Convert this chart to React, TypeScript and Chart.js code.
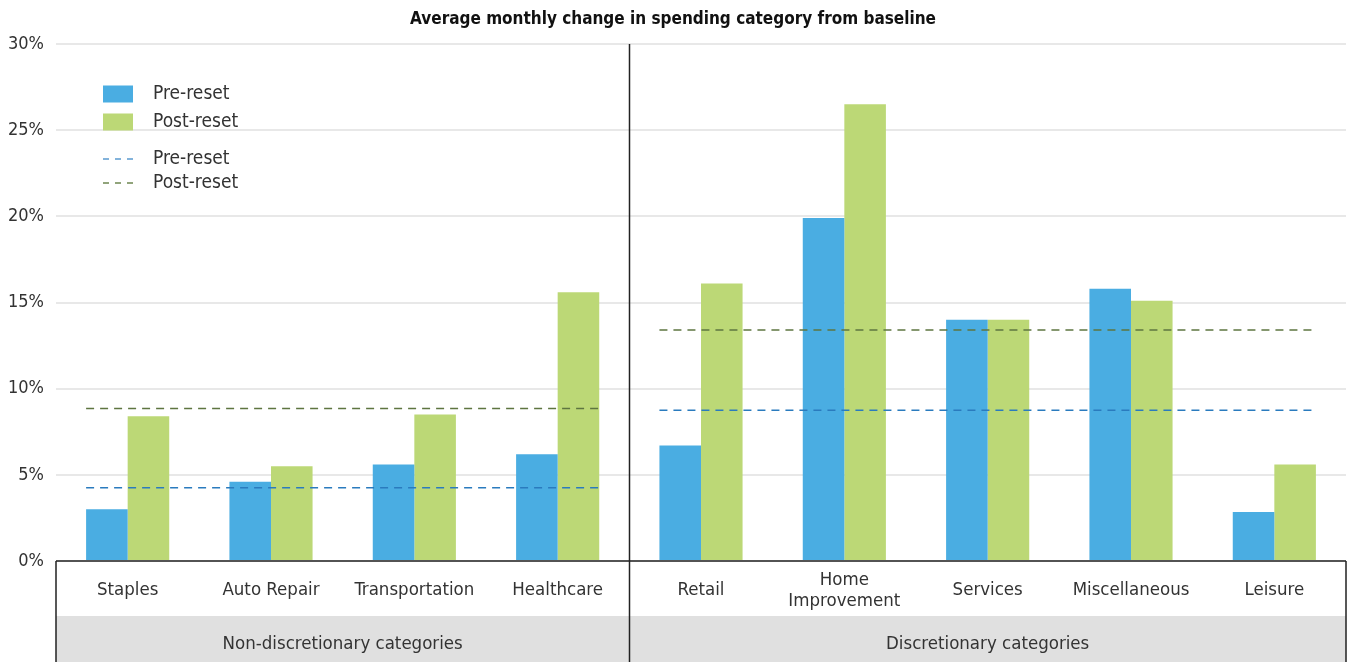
import React, { useEffect, useRef } from 'react';
import { Chart, registerables } from 'chart.js';

Chart.register(...registerables);

const FONT = "'DejaVu Sans Condensed', 'DejaVu Sans', sans-serif";

const titleText = 'Average monthly change in spending category from baseline';
const categories: (string | string[])[] = [
  'Staples', 'Auto Repair', 'Transportation', 'Healthcare',
  'Retail', ['Home', 'Improvement'], 'Services', 'Miscellaneous', 'Leisure',
];
const preReset = [3.0, 4.6, 5.6, 6.2, 6.7, 19.9, 14.0, 15.8, 2.85];
const postReset = [8.4, 5.5, 8.5, 15.6, 16.1, 26.5, 14.0, 15.1, 5.6];

const groupLabels = ['Non-discretionary categories', 'Discretionary categories'];
const groupStart = [0, 4];
const groupEnd = [3, 8];
const preAvg = [4.25, 8.75];
const postAvg = [8.85, 13.4];

const yTicks = [0, 5, 10, 15, 20, 25, 30];
const legendLabels = ['Pre-reset', 'Post-reset', 'Pre-reset', 'Post-reset'];

const BLUE = '#4AADE2';
const GREEN = '#BCD876';
const BLUE_DASH = '#2A7BBE';
const GREEN_DASH = '#5E7540';
const CAT_PCT = 0.58;

const avgPlugin = {
  id: 'groupAverages',
  afterDatasetsDraw(chart: any) {
    const { ctx } = chart;
    const xl = chart.scales.xl;
    const y = chart.scales.y;
    ctx.save();
    ctx.lineWidth = 1.5;
    ctx.setLineDash([8, 6]);
    const draw = (vals: number[], color: string) => {
      ctx.strokeStyle = color;
      vals.forEach((v, i) => {
        const yy = y.getPixelForValue(v);
        ctx.beginPath();
        ctx.moveTo(xl.getPixelForValue(groupStart[i] - CAT_PCT / 2), yy);
        ctx.lineTo(xl.getPixelForValue(groupEnd[i] + CAT_PCT / 2), yy);
        ctx.stroke();
      });
    };
    draw(preAvg, BLUE_DASH);
    draw(postAvg, GREEN_DASH);
    ctx.restore();
  },
};

const framePlugin = {
  id: 'frameAndLegend',
  afterDraw(chart: any) {
    const { ctx, chartArea } = chart;
    const xl = chart.scales.xl;
    const H = chart.height;
    const bandTop = chartArea.bottom + 55;
    ctx.save();
    ctx.fillStyle = '#E0E0E0';
    ctx.fillRect(chartArea.left, bandTop, chartArea.right - chartArea.left, H - bandTop);
    ctx.font = `18.5px ${FONT}`;
    ctx.fillStyle = '#333';
    ctx.textAlign = 'center';
    ctx.textBaseline = 'middle';
    groupLabels.forEach((lab, i) => {
      const a = xl.getPixelForValue(groupStart[i] - 0.5);
      const b = xl.getPixelForValue(groupEnd[i] + 0.5);
      ctx.fillText(lab, (a + b) / 2, H - 18);
    });
    ctx.strokeStyle = '#222';
    ctx.lineWidth = 1.5;
    ctx.beginPath();
    ctx.moveTo(chartArea.left, chartArea.bottom);
    ctx.lineTo(chartArea.right, chartArea.bottom);
    ctx.moveTo(chartArea.left, chartArea.bottom);
    ctx.lineTo(chartArea.left, H);
    ctx.moveTo(chartArea.right, chartArea.bottom);
    ctx.lineTo(chartArea.right, H);
    for (let i = 1; i < groupStart.length; i++) {
      const d = Math.round(xl.getPixelForValue(groupStart[i] - 0.5)) + 0.5;
      ctx.moveTo(d, chartArea.top);
      ctx.lineTo(d, H);
    }
    ctx.stroke();

    const sx = chartArea.left + 47;
    const rows = [50, 78, 115, 139].map((v) => chartArea.top + v);
    const sw = 30;
    ctx.fillStyle = BLUE;
    ctx.fillRect(sx, rows[0] - 8.5, sw, 17);
    ctx.fillStyle = GREEN;
    ctx.fillRect(sx, rows[1] - 8.5, sw, 17);
    ctx.lineWidth = 1.5;
    ctx.setLineDash([6, 6]);
    ctx.strokeStyle = '#5B9BD0';
    ctx.beginPath();
    ctx.moveTo(sx, rows[2]);
    ctx.lineTo(sx + sw, rows[2]);
    ctx.stroke();
    ctx.strokeStyle = '#6E8650';
    ctx.beginPath();
    ctx.moveTo(sx, rows[3]);
    ctx.lineTo(sx + sw, rows[3]);
    ctx.stroke();
    ctx.setLineDash([]);
    ctx.font = `19px ${FONT}`;
    ctx.fillStyle = '#333';
    ctx.textAlign = 'left';
    legendLabels.forEach((t, i) => ctx.fillText(t, sx + 50, rows[i]));
    ctx.restore();
  },
};

export default function App() {
  const ref = useRef<HTMLCanvasElement | null>(null);
  useEffect(() => {
    if (!ref.current) return;
    const chart = new Chart(ref.current, {
      type: 'bar',
      data: {
        labels: categories as any,
        datasets: [
          { label: 'Pre-reset', data: preReset, backgroundColor: BLUE, categoryPercentage: CAT_PCT, barPercentage: 1 },
          { label: 'Post-reset', data: postReset, backgroundColor: GREEN, categoryPercentage: CAT_PCT, barPercentage: 1 },
        ],
      },
      options: {
        responsive: true,
        maintainAspectRatio: false,
        animation: false,
        layout: { padding: { left: 0, right: 2, top: 0, bottom: 0 } },
        plugins: {
          legend: { display: false },
          tooltip: { enabled: false },
          title: {
            display: true,
            text: titleText,
            color: '#111',
            font: { family: FONT, size: 17, weight: 'bold', lineHeight: 1.2 },
            padding: { top: 9, bottom: 14.6 },
          },
        },
        scales: {
          x: {
            type: 'category',
            offset: true,
            grid: { display: false, drawTicks: false },
            border: { display: false },
            ticks: {
              color: '#333',
              font: { family: FONT, size: 18.5, lineHeight: 1.15 },
              padding: 19,
              crossAlign: 'center',
              maxRotation: 0,
              autoSkip: false,
            },
            afterFit: (s: any) => { s.height = 101; },
          },
          xl: {
            type: 'linear',
            display: false,
            offset: false,
            bounds: 'data',
            min: -0.5,
            max: categories.length - 0.5,
            grid: { display: false, offset: false },
          },
          y: {
            min: yTicks[0],
            max: yTicks[yTicks.length - 1],
            afterBuildTicks: (s: any) => { s.ticks = yTicks.map((v) => ({ value: v })); },
            grid: { color: '#E8E8E8', lineWidth: 2, drawTicks: false },
            border: { display: false },
            ticks: {
              color: '#333',
              font: { family: FONT, size: 18 },
              padding: 12,
              callback: (v: any) => `${v}%`,
            },
            afterFit: (s: any) => { s.width = 56; },
          },
        },
      } as any,
      plugins: [avgPlugin, framePlugin],
    });
    return () => chart.destroy();
  }, []);
  return (
    <div style={{ position: 'fixed', left: 0, top: 0, width: 1348, height: 662, background: '#fff' }}>
      <canvas ref={ref} />
    </div>
  );
}
